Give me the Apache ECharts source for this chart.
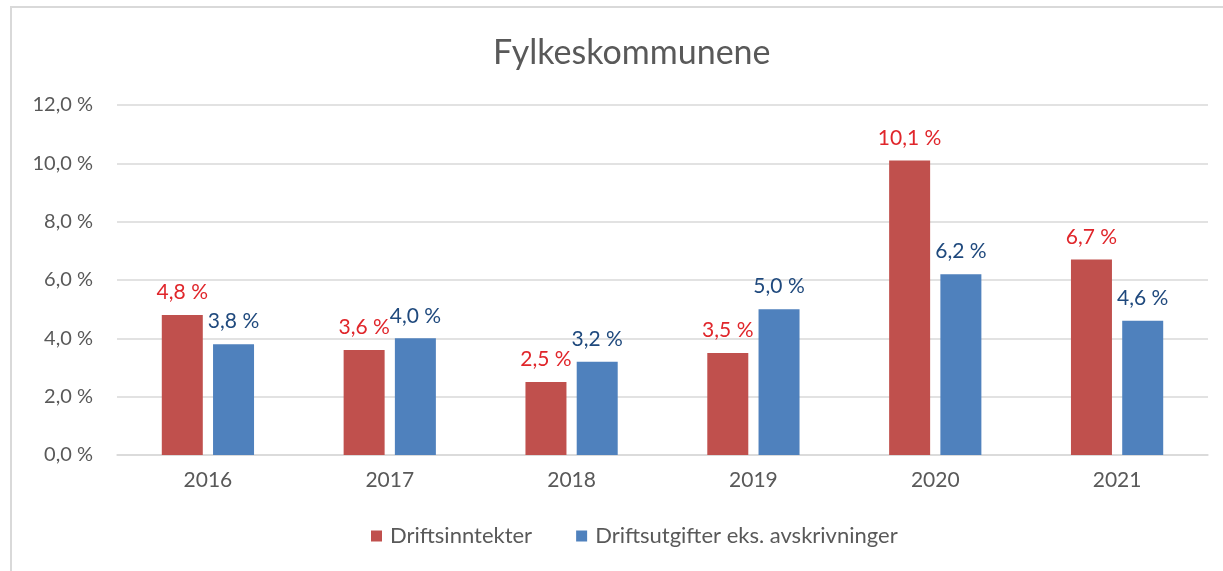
<!DOCTYPE html>
<html>
<head>
<meta charset="utf-8">
<script src="https://cdn.jsdelivr.net/npm/echarts@6/dist/echarts.min.js"></script>
<style>
html,body{margin:0;padding:0;background:#fff;}
#chart{width:1223px;height:571px;}
</style>
</head>
<body>
<div id="chart"></div>
<script>
const categories = ['2016', '2017', '2018', '2019', '2020', '2021'];
const driftsinntekter = [4.8, 3.6, 2.5, 3.5, 10.1, 6.7];
const driftsutgifter = [3.8, 4.0, 3.2, 5.0, 6.2, 4.6];
const seriesNames = ['Driftsinntekter', 'Driftsutgifter eks. avskrivninger'];
const titleText = 'Fylkeskommunene';

const fmt = v => v.toFixed(1).replace('.', ',') + ' %';
const FONT = 'Lato';

const chart = echarts.init(document.getElementById('chart'));
chart.setOption({
  backgroundColor: '#fff',
  animation: false,
  graphic: [{
    type: 'rect',
    shape: { x: 11, y: 7, width: 1300, height: 700 },
    style: { fill: 'none', stroke: '#D9D9D9', lineWidth: 2 },
    silent: true, z: -10
  }],
  title: {
    text: titleText,
    left: 488,
    top: 31,
    textStyle: { fontFamily: FONT, fontSize: 34, fontWeight: 'normal', color: '#595959' }
  },
  legend: {
    bottom: 19,
    left: 366,
    itemWidth: 11,
    itemHeight: 11,
    itemGap: 44,
    icon: 'rect',
    textStyle: { fontFamily: FONT, fontSize: 22, color: '#595959', padding: [0, 0, 0, 3] },
    data: seriesNames
  },
  grid: { left: 117, right: 15, top: 105, bottom: 116 },
  xAxis: {
    type: 'category',
    data: categories,
    axisLine: { lineStyle: { color: '#D9D9D9', width: 1.5 } },
    axisTick: { show: false },
    axisLabel: { fontFamily: FONT, fontSize: 21, color: '#595959', margin: 15 }
  },
  yAxis: {
    type: 'value',
    min: 0, max: 12, interval: 2,
    axisLine: { show: false },
    axisTick: { show: false },
    splitLine: { lineStyle: { color: '#D9D9D9', width: 1.5 } },
    axisLabel: { fontFamily: FONT, fontSize: 20, color: '#595959', margin: 24, formatter: v => fmt(v) }
  },
  series: [
    {
      name: seriesNames[0],
      type: 'bar',
      data: driftsinntekter,
      barWidth: 41,
      barGap: '25%',
      itemStyle: { color: '#C0504D' },
      label: { show: true, position: 'top', distance: 12, fontFamily: FONT, fontSize: 21, color: '#E0262B', formatter: p => fmt(p.value) }
    },
    {
      name: seriesNames[1],
      type: 'bar',
      data: driftsutgifter,
      barWidth: 41,
      itemStyle: { color: '#4F81BD' },
      label: { show: true, position: 'top', distance: 12, fontFamily: FONT, fontSize: 21, color: '#1F497D', formatter: p => fmt(p.value) }
    }
  ]
});
</script>
</body>
</html>
